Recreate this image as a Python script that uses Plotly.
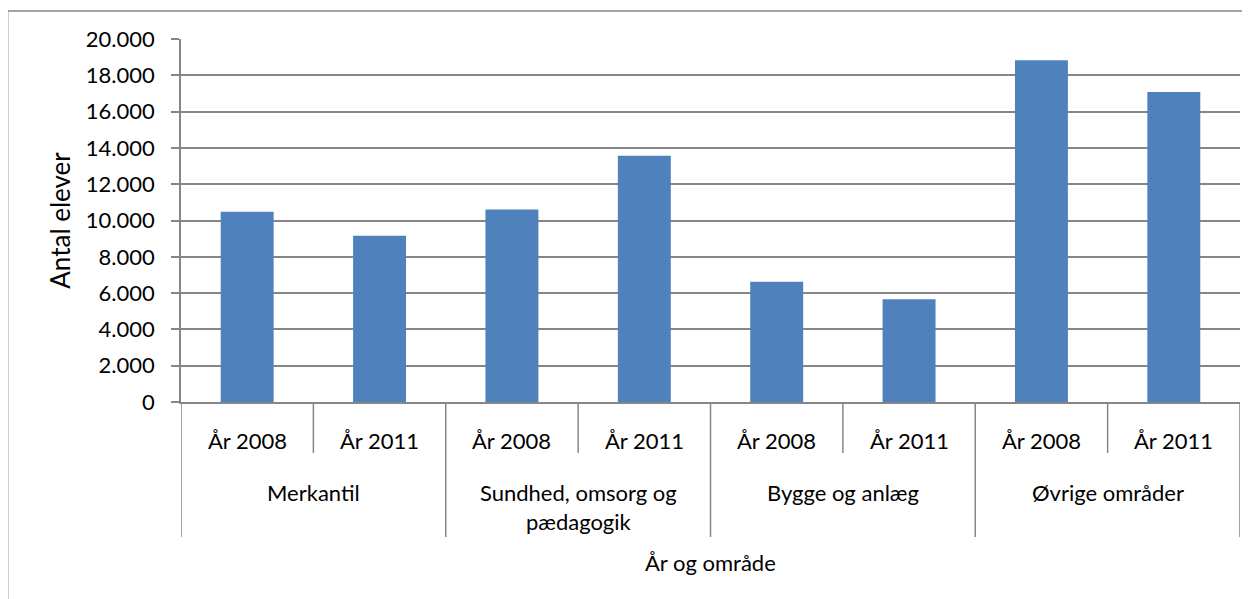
import plotly.graph_objects as go

groups = ["Merkantil", "Sundhed, omsorg og<br>pædagogik", "Bygge og anlæg", "Øvrige områder"]
years = ["År 2008", "År 2011"]
values = [10480, 9160, 10600, 13570, 6630, 5660, 18830, 17080]
y_ticks = [0, 2000, 4000, 6000, 8000, 10000, 12000, 14000, 16000, 18000, 20000]
y_labels = ["0", "2.000", "4.000", "6.000", "8.000", "10.000", "12.000",
            "14.000", "16.000", "18.000", "20.000"]
x_title = "År og område"
y_title = "Antal elever"

FONT = "Lato"
GRAY = "#868686"
FS = 22

xs = list(range(len(values)))
fig = go.Figure(go.Bar(x=xs, y=values, marker_color="#4F81BD",
                       marker_line_width=0, width=0.4))

# page body has an 8px margin, so the figure is shifted; compensate
fig.update_layout(
    width=1242, height=591,
    margin=dict(l=173, r=10, t=31, b=197, autoexpand=False),
    paper_bgcolor="white", plot_bgcolor="white",
    font=dict(family=FONT, size=FS, color="black"),
    showlegend=False,
)
fig.update_yaxes(range=[0, 20000], tickvals=y_ticks, ticktext=y_labels,
                 showgrid=True, gridcolor=GRAY, gridwidth=1.5,
                 ticks="outside", ticklen=8, tickcolor=GRAY, tickwidth=1.5,
                 ticklabelstandoff=12,
                 showline=True, linecolor=GRAY, linewidth=1.5,
                 title=dict(text=y_title, standoff=8),
                 zeroline=False)
fig.update_xaxes(range=[-0.5, len(values) - 0.5], showticklabels=False,
                 showgrid=False, zeroline=False,
                 showline=True, linecolor=GRAY, linewidth=1.5)

n = len(values)
for k in range(n + 1):
    b = k - 0.5
    is_group = (k % 2 == 0)
    fig.add_shape(type="line", xref="x", yref="paper", x0=b, x1=b,
                  y0=0, y1=(-0.372 if is_group else -0.1405),
                  line=dict(color=GRAY, width=1.5))

for i in range(n):
    fig.add_annotation(x=i, xref="x", y=-0.1047, yref="paper",
                       text=years[i % 2], showarrow=False,
                       yanchor="middle", font=dict(size=FS))
for g, name in enumerate(groups):
    yc = -0.2906 if "<br>" in name else -0.248
    fig.add_annotation(x=2 * g + 0.5, xref="x", y=yc, yref="paper",
                       text=name, showarrow=False, yanchor="middle",
                       font=dict(size=FS))
fig.add_annotation(x=0.5, xref="paper", y=-0.4435, yref="paper",
                   text=x_title, showarrow=False, yanchor="middle",
                   font=dict(size=FS))

# outer chart border (only top and left visible)
fig.add_shape(type="rect", xref="paper", yref="paper",
              x0=-0.1637, x1=1.05, y0=-0.6, y1=1.077,
              line=dict(color=GRAY, width=1.5))
fig.write_html("out.html")
